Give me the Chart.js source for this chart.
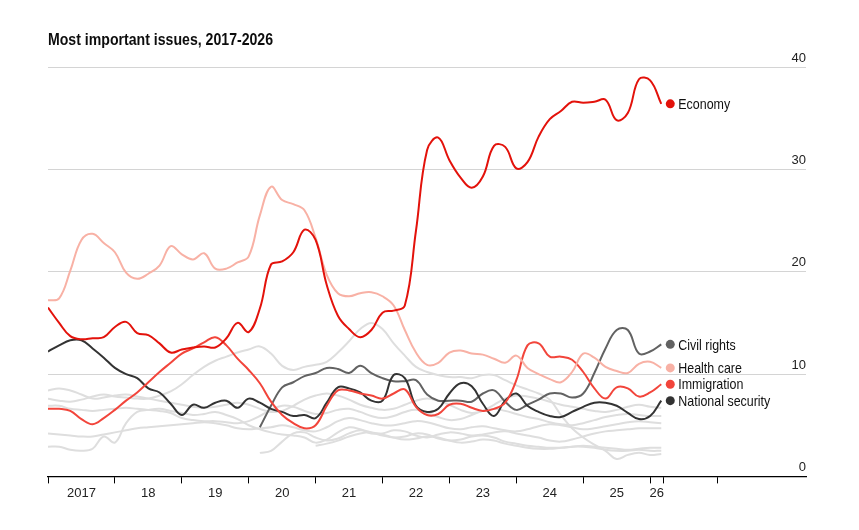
<!DOCTYPE html>
<html>
<head>
<meta charset="utf-8">
<script src="https://cdn.jsdelivr.net/npm/chart.js@4.4.1/dist/chart.umd.min.js"></script>
<style>
  html, body { margin: 0; padding: 0; background: #fff; }
  #wrap { width: 859px; height: 530px; }
</style>
</head>
<body>
<div id="wrap"><canvas id="chart" width="859" height="530"></canvas></div>
<script>
// every second month, Jan 2017 - Mar 2026
const months = [
  '2017-01','2017-03','2017-05','2017-07','2017-09','2017-11',
  '2018-01','2018-03','2018-05','2018-07','2018-09','2018-11',
  '2019-01','2019-03','2019-05','2019-07','2019-09','2019-11',
  '2020-01','2020-03','2020-05','2020-07','2020-09','2020-11',
  '2021-01','2021-03','2021-05','2021-07','2021-09','2021-11',
  '2022-01','2022-03','2022-05','2022-07','2022-09','2022-11',
  '2023-01','2023-03','2023-05','2023-07','2023-09','2023-11',
  '2024-01','2024-03','2024-05','2024-07','2024-09','2024-11',
  '2025-01','2025-03','2025-05','2025-07','2025-09','2025-11',
  '2026-01','2026-03'
];

const economy = [16.5,15.0,13.7,13.4,13.5,13.6, 14.6,15.1,14.0,13.8,13.0,12.1,
  12.4,12.6,12.7,12.6,13.5,15.0, 14.1,16.4,20.7,21.0,21.9,24.1,
  23.1,18.7,15.7,14.4,13.6,14.3, 16.0,16.2,16.7,24.0,31.9,33.1,
  30.9,29.2,28.2,29.3,32.3,32.2, 30.1,30.7,33.2,34.9,35.7,36.6,
  36.5,36.6,36.8,34.8,35.5,38.8, 38.7,36.4];
const healthCare = [17.2,17.4,20.1,23.1,23.7,22.8, 21.9,19.9,19.3,19.8,20.6,22.5,
  21.7,21.2,21.8,20.3,20.3,20.9, 21.5,25.5,28.3,27.0,26.6,26.0,
  23.3,19.7,17.9,17.6,17.9,18.0, 17.6,16.7,14.3,12.1,10.9,11.1,
  12.1,12.3,12.0,11.9,11.5,11.1, 11.8,10.6,10.0,9.5,9.2,10.2,
  12.0,11.6,10.7,10.3,10.1,11.0, 11.2,10.6];
const immigration = [6.6,6.6,6.4,5.6,5.1,5.7, 6.5,7.4,8.2,9.2,10.2,11.1,
  12.0,12.5,13.1,13.6,12.8,11.5, 10.4,9.1,7.3,6.0,5.2,4.7,
  5.0,6.9,8.4,8.4,8.1,7.9, 7.6,8.1,8.5,6.8,6.0,6.1,
  7.0,7.1,6.7,6.4,6.6,7.2, 9.4,12.8,13.0,11.7,11.7,11.4,
  10.2,8.6,7.6,8.7,8.6,7.8, 8.2,9.0];
const nationalSecurity = [12.2,12.8,13.3,13.3,12.5,11.6, 10.6,10.0,9.6,8.6,8.2,7.1,
  6.0,7.0,6.7,7.2,7.4,6.7, 7.6,7.2,6.6,6.3,5.9,6.0,
  5.7,7.2,8.7,8.6,8.2,7.4, 7.4,9.9,9.6,6.9,6.3,6.6,
  8.1,9.1,8.8,7.1,5.9,7.4, 8.1,6.9,6.3,5.9,5.8,6.3,
  6.8,7.2,7.2,6.9,6.2,5.6, 5.9,7.4];
const civilRights = [null,null,null,null,null,null, null,null,null,null,null,null,
  null,null,null,null,null,null, null,4.8,6.9,8.7,9.2,9.8,
  10.1,10.6,10.5,10.1,10.8,10.1, 9.6,9.3,9.3,9.4,8.0,7.4,
  7.4,7.4,7.3,8.1,8.4,7.3, 6.5,7.0,7.5,8.1,8.1,7.7,
  8.1,10.1,12.5,14.3,14.3,12.0, 12.2,12.9];

// other issues, drawn in light grey
const otherA = [7.6,7.4,7.3,7.5,7.8,8.0, 7.8,7.7,7.6,7.6,7.9,8.3,
  9.0,9.9,10.7,11.3,11.7,12.1, 12.4,12.7,12.0,10.8,10.4,10.7,
  10.9,11.2,12.1,13.2,14.4,15.0, 14.4,13.0,11.8,10.7,10.2,9.9,
  9.7,9.7,9.6,9.9,9.9,9.4, 8.9,8.5,8.1,7.5,6.0,4.7,
  3.8,3.1,2.5,1.7,2.1,2.3, 2.1,2.2];
const otherB = [8.4,8.6,8.4,8.0,7.6,7.7, 7.9,8.0,7.8,7.6,7.4,7.2,
  7.0,6.8,6.7,6.8,7.0,7.2, 7.0,6.6,6.3,6.4,6.9,7.5,
  7.9,8.1,7.9,7.5,7.0,6.7, 6.5,6.6,7.0,7.4,7.6,7.4,
  7.0,6.5,6.2,6.4,7.0,7.6, 7.9,7.8,7.6,7.3,7.0,6.8,
  6.6,6.4,6.3,6.5,6.8,7.0, 6.8,6.7];
const otherC = [6.9,6.9,6.6,6.5,6.4,6.5, 6.6,6.7,6.6,6.5,6.4,6.2,
  5.7,5.5,5.4,5.4,5.3,5.2, 5.4,5.9,6.5,6.9,6.8,6.4,
  6.1,6.2,6.5,6.6,6.3,5.9, 5.7,5.9,6.3,6.5,6.2,5.8,
  5.5,5.6,6.0,6.4,6.6,6.4, 6.1,5.8,5.6,5.3,5.1,5.0,
  5.2,5.5,5.8,6.0,6.1,6.0, 5.9,5.9];
const otherD = [4.2,4.1,4.0,3.9,3.9,4.1, 4.3,4.5,4.7,4.8,4.9,5.0,
  5.1,5.2,5.3,5.2,5.0,4.7, 4.6,4.7,4.8,5.0,4.8,4.5,
  4.4,4.8,5.4,5.7,5.5,5.2, 5.0,5.0,5.2,5.4,5.3,5.0,
  4.7,4.6,4.8,4.9,4.7,4.5, 4.4,4.6,4.9,5.1,5.0,4.8,
  4.6,4.7,4.9,5.1,5.3,5.4, 5.3,5.2];
const otherE = [2.9,2.9,2.6,2.5,2.7,3.9, 3.3,5.2,6.3,6.5,6.6,6.4,
  6.2,6.0,6.1,6.3,6.0,5.6, 5.0,4.6,4.3,4.1,4.0,3.8,
  3.3,3.6,4.3,4.8,4.6,4.2, 4.2,4.5,4.4,4.0,3.8,4.1,
  4.3,4.2,4.0,4.1,4.3,4.4, 4.2,4.0,3.8,3.5,3.4,3.6,
  3.9,4.2,4.4,4.5,4.6,4.7, 4.7,4.7];
const otherF = [null,null,null,null,null,null, null,null,null,null,null,null,
  null,null,null,null,null,null, null,2.3,2.5,3.4,4.2,4.3,
  3.8,3.5,3.7,4.2,4.5,4.3, 4.0,3.8,3.9,4.2,4.1,3.7,
  3.5,3.6,3.9,4.0,3.8,3.4, 3.2,3.0,2.9,2.8,2.8,2.9,
  3.0,2.9,2.8,2.7,2.6,2.7, 2.8,2.8];
const otherG = [null,null,null,null,null,null, null,null,null,null,null,null,
  null,null,null,null,null,null, null,null,null,null,null,null,
  3.0,3.2,3.5,3.9,4.2,4.3, 4.1,3.8,3.6,3.7,3.9,3.8,
  3.5,3.3,3.4,3.6,3.5,3.2, 3.0,2.8,2.7,2.7,2.8,2.9,
  2.9,2.8,2.6,2.5,2.5,2.6, 2.5,2.5];

const xTickMarks = [2017, 2018, 2019, 2020, 2021, 2022, 2023, 2024, 2025, 2026, 2026.2, 2027];
const yearLabels = ['2017', '18', '19', '20', '21', '22', '23', '24', '25', '26'];
const yearLabelPos = [2017.5, 2018.5, 2019.5, 2020.5, 2021.5, 2022.5, 2023.5, 2024.5, 2025.5, 2026.1];
const yTicks = [0, 10, 20, 30, 40];
const titleText = 'Most important issues, 2017-2026';

const FONT = "'Liberation Sans', Arial, sans-serif";
// the original uses a condensed face; squeeze the hand-drawn texts a little
const SQUEEZE = 0.83;

function toYear(m) {
    const parts = m.split('-');
    return parseInt(parts[0], 10) + (parseInt(parts[1], 10) - 1) / 12;
}
const xs = months.map(toYear);

function series(values) {
    return values.map((v, i) => ({ x: xs[i], y: v }));
}

function line(label, values, color, endLabel) {
    return {
        label: label,
        data: series(values),
        borderColor: color,
        backgroundColor: color,
        borderWidth: 2,
        pointRadius: 0,
        fill: false,
        tension: 0.4,
        endLabel: endLabel
    };
}

const datasets = [
    line('Economy', economy, '#e3120b', true),
    line('Health care', healthCare, '#f8b1a5', true),
    line('Immigration', immigration, '#f2453b', true),
    line('National security', nationalSecurity, '#333333', true),
    line('Civil rights', civilRights, '#626262', true),
    line('Other A', otherA, '#dedede', false),
    line('Other B', otherB, '#dedede', false),
    line('Other C', otherC, '#dedede', false),
    line('Other D', otherD, '#dedede', false),
    line('Other E', otherE, '#dedede', false),
    line('Other F', otherF, '#dedede', false),
    line('Other G', otherG, '#dedede', false)
];

function squeezedText(ctx, text, x, y, font, color) {
    ctx.save();
    ctx.font = font;
    ctx.fillStyle = color;
    ctx.textAlign = 'left';
    ctx.textBaseline = 'middle';
    ctx.translate(x, y);
    ctx.scale(SQUEEZE, 1);
    ctx.fillText(text, 0, 0);
    ctx.restore();
}

// title plus a dot and name to the right of each highlighted line's last point
const annotations = {
    id: 'annotations',
    afterDatasetsDraw(chart) {
        const ctx = chart.ctx;
        squeezedText(ctx, titleText, chart.chartArea.left, 40, 'bold 17px ' + FONT, '#0d0d0d');
        chart.data.datasets.forEach((ds, i) => {
            if (!ds.endLabel) return;
            const pts = chart.getDatasetMeta(i).data;
            const last = pts[pts.length - 1];
            ctx.save();
            ctx.fillStyle = ds.borderColor;
            ctx.beginPath();
            ctx.arc(last.x + 9, last.y, 4.5, 0, Math.PI * 2);
            ctx.fill();
            ctx.restore();
            squeezedText(ctx, ds.label, last.x + 17, last.y + 1, '15px ' + FONT, '#111');
        });
    }
};

const ctx = document.getElementById('chart').getContext('2d');
new Chart(ctx, {
    type: 'line',
    data: { datasets: datasets },
    plugins: [annotations],
    options: {
        responsive: false,
        animation: false,
        layout: { padding: { left: 48, right: 53, top: 67, bottom: 27 } },
        scales: {
            x: {
                type: 'linear',
                min: 2017,
                max: 2028.33,
                position: 'bottom',
                weight: 0,
                afterBuildTicks: function(scale) {
                    scale.ticks = xTickMarks.map(v => ({ value: v }));
                },
                ticks: { display: false },
                grid: {
                    drawOnChartArea: false,
                    drawTicks: true,
                    tickLength: 7,
                    tickColor: '#000',
                    tickWidth: 1
                },
                border: { display: true, color: '#000', width: 1.2 }
            },
            x2: {
                type: 'linear',
                min: 2017,
                max: 2028.33,
                position: 'bottom',
                weight: 1,
                afterBuildTicks: function(scale) {
                    scale.ticks = yearLabelPos.map(v => ({ value: v }));
                },
                ticks: {
                    padding: 2,
                    maxRotation: 0,
                    autoSkip: false,
                    color: '#222',
                    font: { family: FONT, size: 13 },
                    callback: function(value, index) {
                        return yearLabels[index];
                    }
                },
                grid: { display: false, drawTicks: false },
                border: { display: false }
            },
            y: {
                min: 0,
                max: 40,
                position: 'right',
                afterBuildTicks: function(scale) {
                    scale.ticks = yTicks.map(v => ({ value: v }));
                },
                ticks: {
                    mirror: true,
                    padding: 0,
                    labelOffset: -9,
                    color: '#222',
                    font: { family: FONT, size: 13 }
                },
                grid: {
                    drawTicks: false,
                    lineWidth: 1,
                    color: function(c) {
                        return c.tick && c.tick.value === 0 ? 'rgba(0,0,0,0)' : '#d4d4d4';
                    }
                },
                border: { display: false }
            }
        },
        plugins: {
            legend: { display: false },
            tooltip: { enabled: false },
            title: { display: false }
        }
    }
});
</script>
</body>
</html>
